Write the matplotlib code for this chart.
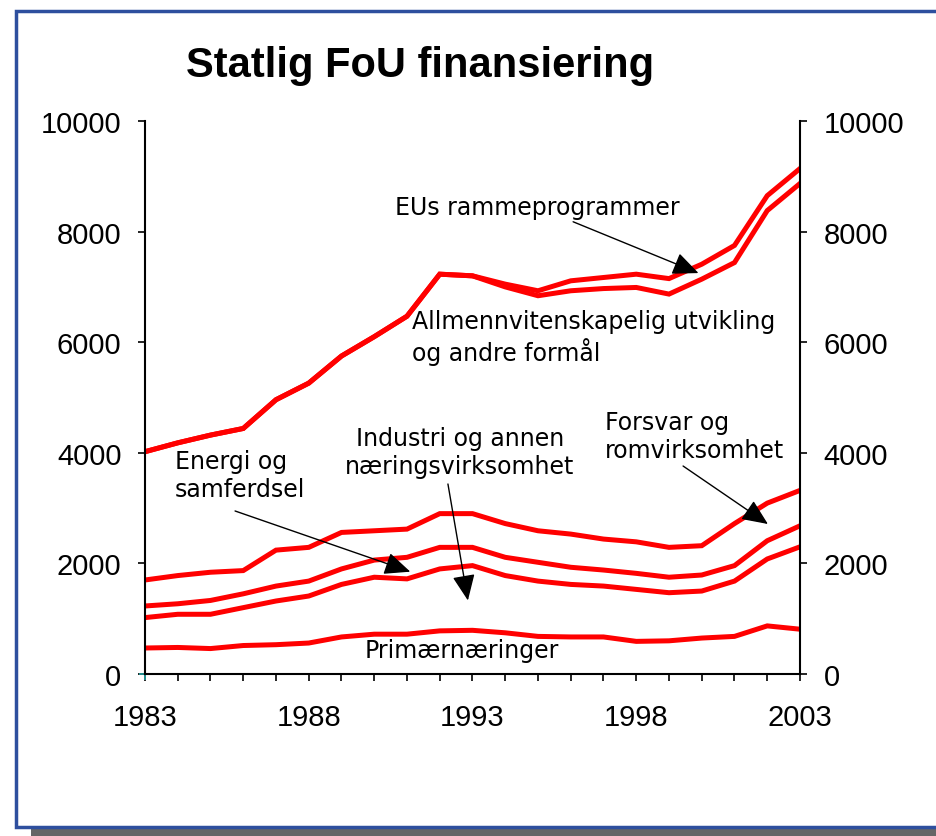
import matplotlib
matplotlib.use("Agg")
import matplotlib.pyplot as plt
from matplotlib.patches import Rectangle
from matplotlib.ticker import MultipleLocator, FixedLocator

# years and cumulative levels (mill. kr)
years = list(range(1983, 2004))
year_labels = [1983, 1988, 1993, 1998, 2003]
primaer  = [470, 480, 460, 515, 530, 560, 670, 720, 720, 780, 790, 745, 680, 670, 670, 590, 600, 650, 680, 870, 810]
energi   = [1020, 1080, 1080, 1200, 1320, 1410, 1620, 1750, 1720, 1900, 1960, 1780, 1680, 1620, 1590, 1530, 1470, 1500, 1680, 2080, 2300]
industri = [1230, 1270, 1330, 1450, 1590, 1680, 1900, 2060, 2110, 2290, 2290, 2110, 2020, 1930, 1880, 1820, 1750, 1790, 1960, 2410, 2680]
forsvar  = [1700, 1780, 1840, 1870, 2240, 2290, 2560, 2590, 2620, 2900, 2900, 2720, 2590, 2530, 2440, 2390, 2290, 2320, 2720, 3090, 3320]
allmenn  = [4020, 4180, 4320, 4440, 4960, 5260, 5750, 6100, 6470, 7230, 7200, 7000, 6840, 6930, 6970, 6990, 6870, 7140, 7440, 8380, 8870]
eu       = [4020, 4180, 4320, 4440, 4960, 5260, 5750, 6100, 6470, 7230, 7200, 7050, 6930, 7110, 7170, 7230, 7150, 7410, 7750, 8650, 9140]

W, H = 937, 837
fig = plt.figure(figsize=(W / 100, H / 100), dpi=100)

# slide frame + shadow (behind the axes)
fig.patches.append(Rectangle((31 / W, 0), 1, 8 / H, transform=fig.transFigure,
                             facecolor='#666666', edgecolor='none', zorder=-2))
fig.patches.append(Rectangle((16 / W, (H - 828) / H), 1.0, (828 - 12) / H, transform=fig.transFigure,
                             facecolor='white', edgecolor='#2e4f9e', lw=2.5, zorder=-1))

fig.text(420 / W, 1 - 66 / H, 'Statlig FoU finansiering', ha='center', va='center',
         fontsize=30, fontweight='bold', family='Liberation Sans')

ax = fig.add_axes([145 / W, (H - 675) / H, 655 / W, 553 / H])
ax.patch.set_alpha(0)
for s in [primaer, energi, industri, forsvar, allmenn, eu]:
    ax.plot(years, s, color='#ff0000', lw=3.6, solid_joinstyle='miter')
ax.plot([1983], [0], marker='+', color='#20a0a0', ms=9, mew=1.2, clip_on=False)

ax.set_xlim(1983, 2003)
ax.set_ylim(0, 10000)
ax.xaxis.set_major_locator(FixedLocator(year_labels))
ax.xaxis.set_minor_locator(FixedLocator(years))
ax.yaxis.set_major_locator(MultipleLocator(2000))
ax.spines['top'].set_visible(False)
for sp in ['left', 'right', 'bottom']:
    ax.spines[sp].set_linewidth(1.5)
ax.tick_params(axis='x', which='both', direction='out', length=5, width=1.2, pad=16)
ax.tick_params(axis='y', direction='out', length=5, width=1.2, pad=12, right=True, labelright=True)
for lab in ax.get_xticklabels() + ax.get_yticklabels():
    lab.set_family('Liberation Sans')
    lab.set_fontsize(21)

tfont = dict(family='DejaVu Sans', fontsize=17)
arr = dict(arrowstyle='-|>,head_length=0.8,head_width=0.35', color='black', lw=1,
           mutation_scale=20, shrinkA=0, shrinkB=0)

ax.annotate('EUs rammeprogrammer', xy=(1999.9, 7250), xytext=(1994.97, 8445),
            ha='center', va='center', arrowprops=arr, **tfont)
ax.text(1991.15, 6094, 'Allmennvitenskapelig utvikling\nog andre formål',
        ha='left', va='center', **tfont)
ax.text(1983.92, 3599, 'Energi og\nsamferdsel', ha='left', va='center', **tfont)
ax.annotate('', xy=(1991.1, 1850), xytext=(1985.75, 2948), arrowprops=arr)
ax.text(1992.62, 4014, 'Industri og annen\nnæringsvirksomhet', ha='center', va='center',
        multialignment='center', **tfont)
ax.annotate('', xy=(1992.86, 1330), xytext=(1992.25, 3436), arrowprops=arr)
ax.text(1997.05, 4304, 'Forsvar og\nromvirksomhet', ha='left', va='center', **tfont)
ax.annotate('', xy=(2002.02, 2712), xytext=(1999.43, 3761), arrowprops=arr)
ax.text(1992.68, 434, 'Primærnæringer', ha='center', va='center', **tfont)

fig.savefig('out.png', dpi=100)
